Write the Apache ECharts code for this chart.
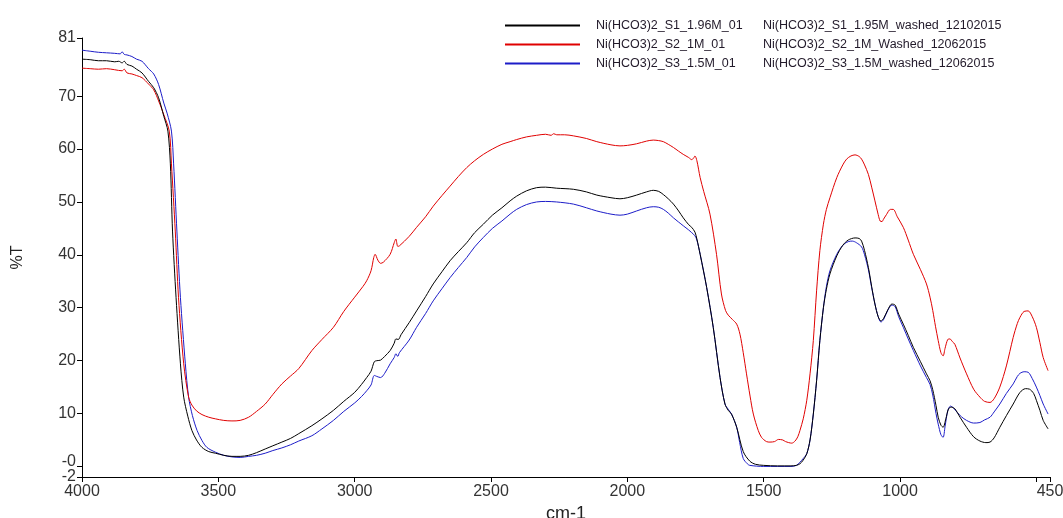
<!DOCTYPE html>
<html>
<head>
<meta charset="utf-8">
<title>FTIR Ni(HCO3)2</title>
<script src="https://cdn.jsdelivr.net/npm/echarts@6.0.0/dist/echarts.min.js"></script>
<style>
  html, body { margin: 0; padding: 0; background: #fff; }
  #chart { width: 1063px; height: 518px; }
</style>
</head>
<body>
<div id="chart"></div>
<script>
// 图例名称（两列）
var seriesNames = ['Ni(HCO3)2_S1_1.96M_01', 'Ni(HCO3)2_S2_1M_01', 'Ni(HCO3)2_S3_1.5M_01'];
var washedNames = ['Ni(HCO3)2_S1_1.95M_washed_12102015', 'Ni(HCO3)2_S2_1M_Washed_12062015', 'Ni(HCO3)2_S3_1.5M_washed_12062015'];
var seriesColors = ['#000000', '#e00000', '#1c1cc8'];

// 刻度
var xLabelValues = [4000, 3500, 3000, 2500, 2000, 1500, 1000, 450];
var xTickValues = [4000, 3500, 3000, 2500, 2000, 1500, 1000, 500, 450];
var yTickValues = [-2, 10, 20, 30, 40, 50, 60, 70, 81];
var yZeroTick = [0];

// [波数 cm-1, %T]
var s1Data = [[4000,77.0],[3970,76.9],[3940,76.7],[3910,76.7],[3880,76.5],[3865,76.6],[3853,76.3],[3845,76.6],[3835,76.0],[3817,75.7],[3800,75.1],[3780,74.4],[3756,72.8],[3737,71.6],[3719,69.7],[3700,66.2],[3685,63.4],[3676,57.2],[3668,44.5],[3655,31.9],[3639,19.4],[3627,13.1],[3612,9.5],[3597,6.8],[3580,5.0],[3560,3.6],[3535,2.8],[3511,2.5],[3480,2.1],[3450,1.9],[3420,1.9],[3389,2.1],[3360,2.6],[3328,3.3],[3300,3.9],[3267,4.6],[3235,5.3],[3205,6.2],[3157,7.7],[3120,9.0],[3078,10.6],[3040,12.3],[3000,14.0],[2975,15.5],[2956,16.8],[2940,18.0],[2928,19.8],[2918,20.0],[2905,20.1],[2890,20.8],[2870,21.9],[2855,23.3],[2849,24.1],[2840,24.0],[2830,24.9],[2800,27.2],[2773,29.4],[2740,32.1],[2712,34.5],[2680,36.8],[2650,38.9],[2620,40.6],[2589,42.3],[2560,44.2],[2528,45.8],[2495,47.5],[2460,48.9],[2430,50.2],[2406,51.1],[2370,52.1],[2333,52.7],[2300,52.8],[2259,52.6],[2198,52.4],[2150,51.9],[2112,51.3],[2060,50.8],[2027,50.6],[2000,50.8],[1966,51.3],[1930,51.9],[1905,52.2],[1885,52.0],[1868,51.4],[1850,50.6],[1831,49.6],[1812,48.3],[1795,47.0],[1775,45.7],[1764,45.2],[1752,44.3],[1745,43.0],[1733,40.1],[1709,33.8],[1685,26.3],[1660,16.8],[1642,11.8],[1630,10.6],[1618,9.9],[1599,7.4],[1575,2.8],[1551,1.0],[1530,0.4],[1500,0.2],[1450,0.1],[1400,0.1],[1380,0.2],[1367,0.5],[1355,1.2],[1342,2.4],[1330,5.0],[1318,9.9],[1306,16.2],[1294,23.8],[1281,30.0],[1270,33.5],[1257,36.4],[1232,39.8],[1210,41.8],[1190,42.8],[1165,43.2],[1150,43.1],[1141,42.6],[1130,40.8],[1116,37.6],[1104,34.0],[1092,30.7],[1080,28.3],[1070,27.5],[1060,28.0],[1045,29.6],[1030,30.7],[1018,30.5],[1005,28.8],[988,26.9],[970,24.8],[951,22.5],[925,19.8],[903,17.5],[890,16.2],[880,14.5],[868,11.5],[860,9.3],[850,7.8],[842,7.4],[832,9.0],[822,10.9],[812,11.2],[799,10.9],[780,9.3],[756,7.4],[730,5.6],[707,4.8],[685,4.5],[670,4.6],[655,5.4],[634,7.4],[610,9.6],[585,11.8],[560,14.0],[540,14.7],[525,14.6],[510,13.8],[500,12.5],[487,10.6],[475,8.7],[457,7.1]];

var s2Data = [[4000,75.3],[3970,75.2],[3940,75.1],[3910,75.2],[3880,75.0],[3853,74.8],[3845,75.1],[3835,74.4],[3817,74.2],[3800,73.9],[3780,73.5],[3756,72.3],[3737,71.2],[3719,69.1],[3700,66.5],[3680,63.4],[3672,57.2],[3658,44.5],[3646,31.9],[3627,19.4],[3609,13.1],[3597,11.6],[3580,10.5],[3560,9.8],[3535,9.3],[3511,9.0],[3480,8.7],[3450,8.6],[3420,8.7],[3389,9.3],[3360,10.4],[3328,11.8],[3300,13.6],[3267,15.6],[3235,17.1],[3205,18.5],[3157,21.9],[3120,24.0],[3078,26.3],[3040,29.3],[3000,32.0],[2970,34.0],[2956,35.1],[2940,37.0],[2930,39.5],[2925,40.1],[2915,39.0],[2905,38.4],[2895,38.6],[2870,40.1],[2855,42.3],[2849,43.0],[2842,41.6],[2836,41.7],[2800,43.5],[2773,45.2],[2740,47.2],[2712,49.2],[2680,51.2],[2650,53.0],[2620,54.8],[2589,56.5],[2560,57.8],[2528,59.0],[2495,60.0],[2460,60.9],[2430,61.4],[2406,61.8],[2370,62.3],[2333,62.6],[2300,62.8],[2280,62.6],[2270,62.9],[2259,62.7],[2230,62.7],[2198,62.5],[2150,62.0],[2112,61.4],[2060,60.8],[2027,60.6],[2000,60.7],[1966,61.0],[1930,61.5],[1905,61.7],[1885,61.6],[1868,61.4],[1850,60.9],[1831,60.3],[1812,59.6],[1795,59.0],[1775,58.4],[1764,58.0],[1757,58.3],[1752,58.7],[1745,57.8],[1733,54.6],[1720,52.0],[1697,47.7],[1673,40.1],[1655,32.6],[1640,29.5],[1630,28.6],[1615,27.8],[1599,26.9],[1587,25.0],[1575,21.5],[1563,17.5],[1550,13.3],[1538,9.9],[1520,6.8],[1508,5.5],[1490,4.7],[1477,4.6],[1460,4.7],[1446,5.1],[1430,5.0],[1420,4.7],[1397,4.4],[1385,4.8],[1375,5.6],[1367,6.8],[1355,9.0],[1342,12.5],[1330,17.5],[1318,23.8],[1306,33.2],[1294,40.8],[1281,45.8],[1270,48.6],[1257,50.8],[1232,54.6],[1210,57.0],[1196,58.1],[1180,58.7],[1165,58.9],[1150,58.6],[1141,58.1],[1130,57.0],[1116,55.2],[1104,52.8],[1092,50.2],[1080,47.6],[1073,46.4],[1066,46.3],[1061,46.7],[1050,47.6],[1035,48.6],[1025,48.6],[1010,47.2],[988,45.2],[970,42.8],[951,40.1],[925,37.2],[903,34.5],[890,32.0],[880,29.5],[870,26.5],[860,23.8],[850,21.5],[842,20.9],[835,22.3],[825,24.0],[817,24.1],[808,23.6],[799,23.1],[780,20.5],[756,17.5],[730,14.6],[707,13.1],[690,12.3],[670,12.1],[655,12.8],[634,15.0],[610,19.0],[585,24.4],[570,27.0],[560,28.2],[545,29.3],[530,29.4],[515,28.3],[500,26.3],[487,23.4],[475,20.6],[457,18.1]];

var s3Data = [[4000,78.7],[3970,78.5],[3940,78.3],[3910,78.2],[3880,78.1],[3860,78.0],[3853,78.4],[3845,77.9],[3835,77.8],[3817,77.5],[3800,77.0],[3780,76.6],[3756,75.2],[3737,74.2],[3719,72.2],[3700,68.7],[3688,66.8],[3672,63.4],[3664,57.2],[3652,44.5],[3639,31.9],[3621,19.4],[3609,13.1],[3595,9.6],[3578,6.8],[3560,4.9],[3542,3.6],[3511,2.7],[3480,2.1],[3450,1.8],[3420,1.7],[3389,1.9],[3360,2.1],[3328,2.5],[3300,3.0],[3267,3.5],[3235,4.1],[3205,4.8],[3157,5.8],[3120,7.1],[3078,8.7],[3040,10.4],[3000,12.0],[2975,13.2],[2956,14.3],[2940,15.4],[2928,17.2],[2918,17.0],[2905,16.8],[2890,17.6],[2870,19.4],[2855,20.6],[2849,21.3],[2842,20.8],[2836,21.5],[2800,23.9],[2773,26.3],[2740,28.9],[2712,31.3],[2680,33.6],[2650,35.7],[2620,37.6],[2589,39.5],[2560,41.5],[2528,43.3],[2495,45.0],[2460,46.4],[2430,47.7],[2406,48.6],[2370,49.5],[2333,50.0],[2300,50.1],[2259,50.0],[2198,49.6],[2150,48.9],[2112,48.3],[2060,47.7],[2027,47.5],[2000,47.7],[1966,48.3],[1930,48.9],[1905,49.1],[1885,49.0],[1868,48.6],[1850,47.9],[1831,47.0],[1812,46.2],[1795,45.5],[1775,44.7],[1764,44.2],[1752,43.6],[1745,42.8],[1733,40.1],[1709,33.8],[1685,26.3],[1660,16.8],[1642,11.8],[1630,10.8],[1618,9.9],[1599,7.4],[1588,4.5],[1575,1.5],[1560,0.5],[1551,0.2],[1500,0.0],[1450,0.0],[1400,0.0],[1380,0.2],[1367,0.8],[1355,1.5],[1342,2.4],[1330,5.0],[1318,9.9],[1306,16.2],[1294,23.8],[1281,30.0],[1270,34.0],[1257,37.0],[1232,40.1],[1210,41.8],[1190,42.5],[1175,42.6],[1160,42.3],[1141,41.5],[1130,40.0],[1116,37.2],[1104,33.8],[1092,30.7],[1080,28.3],[1070,27.3],[1060,27.8],[1045,29.5],[1030,30.5],[1018,30.2],[1005,28.3],[988,26.3],[970,24.1],[951,21.9],[925,19.0],[903,16.8],[890,15.5],[880,13.5],[868,10.0],[860,8.0],[850,6.0],[842,5.5],[835,7.5],[825,10.5],[815,11.4],[805,11.1],[790,10.2],[775,9.4],[756,8.7],[730,8.2],[707,8.3],[690,8.8],[670,9.3],[655,10.3],[634,11.8],[610,13.8],[585,15.6],[570,17.0],[560,17.6],[545,17.9],[530,17.8],[515,16.6],[500,15.0],[487,13.4],[475,11.8],[457,9.9]];

var allData = [s1Data, s2Data, s3Data];
var fontName = 'Liberation Sans, Arial, sans-serif';

var myChart = echarts.init(document.getElementById('chart'));

var series = seriesNames.map(function (name, i) {
    return {
        name: name,
        type: 'line',
        data: allData[i],
        symbol: 'none',
        smooth: 0.3,
        lineStyle: { color: seriesColors[i], width: 1 },
        itemStyle: { color: seriesColors[i] },
        z: 3 - i
    };
});

var yLabelStyle = {
    showMinLabel: true,
    showMaxLabel: true,
    hideOverlap: false,
    margin: 6,
    fontFamily: fontName,
    fontSize: 16,
    color: '#333'
};

myChart.setOption({
    animation: false,
    grid: {
        left: 82,
        right: 13,
        top: 38,
        bottom: 41,
        outerBoundsMode: 'none'
    },
    legend: {
        orient: 'vertical',
        left: 500,
        top: 14,
        icon: 'rect',
        itemWidth: 75,
        itemHeight: 2,
        itemGap: 6,
        data: seriesNames,
        formatter: function (name) {
            var idx = seriesNames.indexOf(name);
            return '{a|' + name + '}{b|' + washedNames[idx] + '}';
        },
        textStyle: {
            fontFamily: fontName,
            fontSize: 12.5,
            color: '#221a2a',
            rich: {
                a: { width: 167, padding: [0, 0, 0, 11], height: 14, fontFamily: fontName, fontSize: 12.5, color: '#221a2a' },
                b: { height: 14, fontFamily: fontName, fontSize: 12.5, color: '#221a2a' }
            }
        }
    },
    xAxis: {
        type: 'value',
        inverse: true,
        min: 450,
        max: 4000,
        name: 'cm-1',
        nameLocation: 'middle',
        nameGap: 19,
        nameTextStyle: { fontFamily: fontName, fontSize: 18, color: '#222' },
        axisLine: { show: true, onZero: false, lineStyle: { color: '#000', width: 1 } },
        axisTick: { show: true, length: 5, customValues: xTickValues, lineStyle: { color: '#000' } },
        axisLabel: {
            customValues: xLabelValues,
            showMinLabel: true,
            showMaxLabel: true,
            margin: 7,
            fontFamily: fontName,
            fontSize: 16,
            color: '#333',
            formatter: function (v) {
                return String(v);
            }
        },
        splitLine: { show: false }
    },
    yAxis: [{
        type: 'value',
        min: -2,
        max: 81,
        name: '%T',
        nameLocation: 'middle',
        nameRotate: 90,
        nameGap: 56,
        nameTextStyle: { fontFamily: fontName, fontSize: 16, color: '#222' },
        axisLine: { show: true, onZero: false, lineStyle: { color: '#000', width: 1 } },
        axisTick: { show: true, length: 5, customValues: yTickValues, lineStyle: { color: '#000' } },
        axisLabel: Object.assign({ customValues: yTickValues }, yLabelStyle),
        splitLine: { show: false }
    }, {
        // 单独画 "-0" 刻度，避免与 -2 重叠被隐藏
        type: 'value',
        position: 'left',
        min: -2,
        max: 81,
        axisLine: { show: false },
        axisTick: { show: true, length: 5, customValues: yZeroTick, lineStyle: { color: '#000' } },
        axisLabel: Object.assign({
            customValues: yZeroTick,
            verticalAlign: 'bottom',
            lineHeight: 10,
            formatter: function () { return '-0'; }
        }, yLabelStyle),
        splitLine: { show: false }
    }],
    series: series
});
</script>
</body>
</html>
